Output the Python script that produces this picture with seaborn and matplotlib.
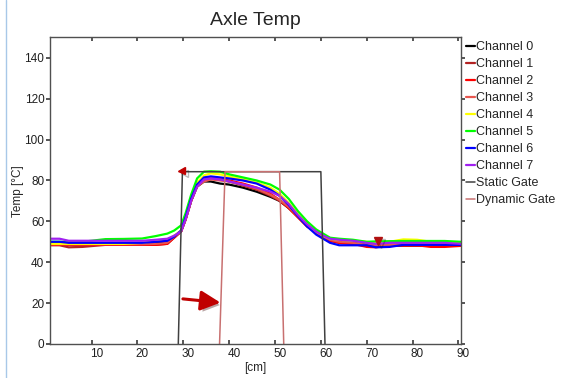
import numpy as np
import pandas as pd
import matplotlib
matplotlib.use("Agg")
import matplotlib.pyplot as plt
import matplotlib.patheffects as pe
import matplotlib.transforms as mtransforms
from matplotlib.lines import Line2D
import seaborn as sns

sns.set_theme(style="white")
plt.rcParams['font.family'] = ['Liberation Sans', 'DejaVu Sans']

# posiciones a lo largo del eje [cm]
x_cm = [1, 3, 5, 8, 13, 17, 21, 24, 26.5, 28, 29.5, 30.5, 31.7, 33, 34.5, 36, 38, 40, 43, 46,
        49, 51, 53, 55, 57, 59, 60.5, 62, 64, 67, 70, 72, 75, 78, 81, 84, 87, 90.5]

ch0 = [49, 49, 49, 49, 49, 49, 49, 49.3, 50, 52.5, 55, 61, 70, 77, 79.5, 79.5, 78.5, 78, 76.5, 74.5,
       72, 70, 66.5, 62.5, 58, 54.5, 52.5, 51, 50, 49.5, 48.5, 48.5, 48.5, 48.5, 48.5, 48.5, 48.5, 48.5]
ch1 = [48.3, 48.3, 47.3, 47.5, 48.5, 48.5, 48.5, 48.5, 49, 52, 55, 61, 70, 77.5, 80.5, 81.5, 81, 79.5, 77.5, 75.5,
       72.5, 70, 66.5, 62, 57.5, 54.5, 52.5, 50.5, 49.5, 49, 48, 48, 48, 48, 48, 48, 48, 48]
ch2 = [48.5, 48.5, 48.5, 48.5, 48.5, 48.5, 48.5, 48.5, 49, 52, 55, 61, 70, 77.5, 80, 81, 80.5, 80, 78.5, 76.5,
       73.5, 70.5, 66.5, 62, 57.5, 54.5, 52.5, 50.5, 49.5, 49, 47.5, 47.3, 48.3, 48.3, 48.3, 47.5, 47.5, 48]
ch3 = [48.8, 48.8, 48.8, 48.8, 48.8, 48.8, 48.8, 49, 49.5, 52.5, 55, 61, 70, 77, 79.5, 80.5, 80, 79.5, 78, 76,
       73, 70.5, 67, 62.5, 58, 54.5, 52.5, 51, 50, 49.5, 48.5, 48.5, 48.5, 48.5, 48.5, 48.5, 48.5, 48.5]
ch4 = [49, 49, 49, 49, 49, 49, 49.5, 50.5, 51, 53, 55.5, 62, 71, 79, 82.5, 83.5, 83, 82, 80.5, 79,
       76.5, 73.5, 69, 63.5, 58.5, 55, 53, 51.5, 51, 50.5, 50, 49.5, 50, 51.2, 51, 50, 50, 49.5]
ch5 = [50, 50, 50, 50, 51.3, 51.4, 51.6, 52.8, 54, 55.5, 58, 64, 73, 81, 84.3, 84.5, 84.3, 83, 81.5, 80,
       78, 75.5, 71, 65, 60, 56, 54, 52, 51.5, 51, 50, 50.2, 50.3, 50.4, 50.4, 50.4, 50.4, 50]
ch6 = [50, 50, 49.5, 49.5, 49.5, 49.5, 49.5, 50, 50.5, 52.5, 55.5, 62, 71, 78, 81.5, 82, 81.5, 81, 80, 78.5,
       75.5, 72.5, 68, 62.5, 57.5, 53.5, 51.5, 49.5, 48.3, 48.3, 48.3, 47.3, 47.5, 48.5, 48.5, 48.5, 48.5, 48.5]
ch7 = [51.5, 51.5, 50.5, 50.5, 50.5, 50.5, 50.5, 51, 51.5, 53, 55, 61, 70, 77, 80.5, 81, 80.5, 79.5, 78, 76.5,
       74.5, 72.5, 68.5, 63, 58.5, 55, 53, 51.5, 51, 50.5, 49.5, 49, 49.5, 49.5, 49.5, 49.5, 49.5, 49]

channels = ['Channel 0', 'Channel 1', 'Channel 2', 'Channel 3',
            'Channel 4', 'Channel 5', 'Channel 6', 'Channel 7']
colores = ['#000000', '#B22222', '#FF0000', '#E8564F',
           '#FFFF00', '#00FF00', '#0000FF', '#A020F0']

# puertas
static_x = [28.9, 29.8, 60.0, 60.9]
static_y = [0, 84.3, 84.3, 0]
dyn_x = [37.9, 39.1, 51.0, 51.9]
dyn_y = [0, 84.3, 84.3, 0]

df = pd.DataFrame({'cm': x_cm * 8,
                   'temp': ch0 + ch1 + ch2 + ch3 + ch4 + ch5 + ch6 + ch7,
                   'canal': np.repeat(channels, len(x_cm))})

fig = plt.figure(figsize=(5.61, 3.78), dpi=100)
ax = fig.add_axes([0.089, 0.09, 0.733, 0.811])

sns.lineplot(data=df, x='cm', y='temp', hue='canal', hue_order=channels,
             palette=dict(zip(channels, colores)), estimator=None, sort=False,
             linewidth=1.6, ax=ax, legend=False)
ax.plot(static_x, static_y, color='#404040', lw=1.1, label='Static Gate')
ax.plot(dyn_x, dyn_y, color='#C87070', lw=1.1, label='Dynamic Gate')

# flechas / marcadores de las puertas
sombra = [pe.SimplePatchShadow(offset=(2, -2), alpha=0.35), pe.Normal()]
ax.annotate('', xy=(38.7, 20.1), xytext=(29.3, 22.2),
            arrowprops=dict(arrowstyle='-|>,head_length=1.0,head_width=0.5', color='#C00000',
                            lw=2.2, path_effects=sombra))
ax.plot([29.6], [84.8], marker='<', color='#C00000', ms=5,
        path_effects=[pe.SimpleLineShadow(offset=(2, -2), alpha=0.3), pe.Normal()])
ax.plot([72.5], [50.5], marker='v', color='#B01010', ms=6,
        path_effects=[pe.SimpleLineShadow(offset=(2, -2), alpha=0.3), pe.Normal()])

ax.set_xlim(0.9, 90.6)
ax.set_ylim(0, 150)
ax.set_xticks(range(10, 100, 10))
ax.set_yticks(range(0, 150, 20))
ax.tick_params(axis='x', direction='in', length=3, top=True, bottom=True,
               labelsize=8.5, pad=3, colors='#404040', labelcolor='#202020')
ax.tick_params(axis='y', direction='out', length=3, left=True,
               labelsize=8.5, pad=1, colors='#404040', labelcolor='#202020')
ax.tick_params(axis='y', which='both', right=True)
for s in ax.spines.values():
    s.set_color('#505050')
    s.set_linewidth(1.0)

# las etiquetas del eje x van un poco a la derecha de la marca
desplaza = mtransforms.ScaledTranslation(5 / 100, 0, fig.dpi_scale_trans)
for lbl in ax.get_xticklabels():
    lbl.set_transform(lbl.get_transform() + desplaza)

ax.set_title('Axle Temp', fontsize=14, pad=9)
ax.set_xlabel('[cm]', fontsize=8.5, labelpad=1)
ax.set_ylabel('Temp [°C]', fontsize=8.5, labelpad=0)

handles = [Line2D([], [], color=c, lw=1.6) for c in colores]
handles += [Line2D([], [], color='#404040', lw=1.1), Line2D([], [], color='#C87070', lw=1.1)]
ax.legend(handles, channels + ['Static Gate', 'Dynamic Gate'],
          loc='upper left', bbox_to_anchor=(1.012, 0.988), frameon=False,
          fontsize=9, handlelength=0.7, handletextpad=0.1, labelspacing=0.40,
          borderpad=0, borderaxespad=0)

fig.add_artist(Line2D([0.011, 0.011], [0, 1], color='#A8C8E8', lw=1))

fig.savefig('out.png', dpi=100)
